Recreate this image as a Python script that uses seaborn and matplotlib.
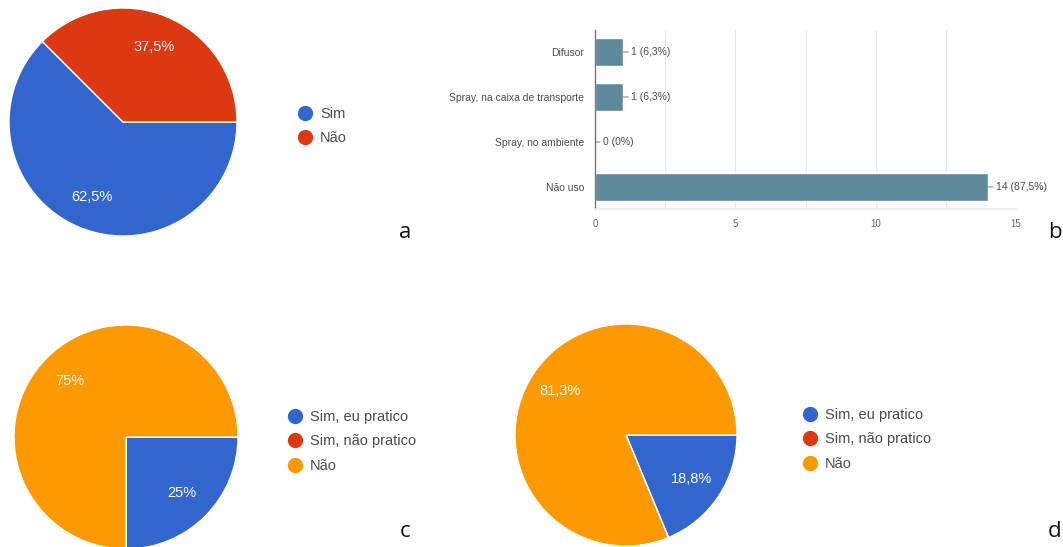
import matplotlib
matplotlib.use("Agg")
import matplotlib.pyplot as plt
from matplotlib.lines import Line2D
import seaborn as sns
import pandas as pd
import math

# Data (16 respondents)
pie_a_labels = ["Sim", "Não"]
pie_a_values = [10, 6]

bar_categories = ["Difusor", "Spray, na caixa de transporte", "Spray, no ambiente", "Não uso"]
bar_values = [1, 1, 0, 14]

pie_c_labels = ["Sim, eu pratico", "Sim, não pratico", "Não"]
pie_c_values = [4, 0, 12]

pie_d_labels = ["Sim, eu pratico", "Sim, não pratico", "Não"]
pie_d_values = [3, 0, 13]

panel_letters = ["a", "b", "c", "d"]

BLUE, RED, ORANGE = "#3366cc", "#dc3912", "#ff9900"
BAR_COLOR = "#5e8a9c"
TEXT_GRAY = "#4a4a4a"

W, H = 1063, 547

sns.set_theme(style="white")
plt.rcParams["font.family"] = ["Liberation Sans", "DejaVu Sans"]


def px_rect(x0, y0, w, h):
    # pixel box (top-left origin) -> figure fraction rect
    return [x0 / W, 1 - (y0 + h) / H, w / W, h / H]


def pct_text(pct):
    # Google style: half-up rounding, comma decimal, drop ",0"
    val = math.floor(pct * 10 + 0.5) / 10
    s = f"{val:.1f}"
    if s.endswith(".0"):
        s = s[:-2]
    return s.replace(".", ",") + "%"


def pie_autopct(pct):
    return pct_text(pct) if pct > 0 else ""


def draw_pie(fig, rect, values, colors):
    ax = fig.add_axes(rect)
    ax.pie(values, colors=colors, startangle=0, counterclock=False,
           autopct=pie_autopct, pctdistance=0.71,
           wedgeprops=dict(edgecolor="white", linewidth=1, clip_on=False),
           textprops=dict(color="white", fontsize=10.5))
    ax.set_xlim(-1, 1)
    ax.set_ylim(-1, 1)
    ax.set_aspect("equal")
    ax.axis("off")
    return ax


def draw_legend(fig, labels, colors, left_px, center_px):
    handles = [Line2D([], [], marker="o", linestyle="", markersize=10,
                      markerfacecolor=c, markeredgecolor=c) for c in colors]
    fig.legend(handles, labels, loc="center left",
               bbox_to_anchor=(left_px / W, 1 - center_px / H),
               frameon=False, fontsize=10.5, labelcolor=TEXT_GRAY,
               handlelength=1.0, handletextpad=0.5, labelspacing=0.72,
               borderpad=0.4)


fig = plt.figure(figsize=(W / 100, H / 100), dpi=100)

# a - pie
draw_pie(fig, px_rect(9, 8, 228, 228), pie_a_values, [BLUE, RED])
draw_legend(fig, pie_a_labels, [BLUE, RED], 285, 126)

# b - horizontal bars
axb = fig.add_axes(px_rect(595, 29.5, 421, 180))
df = pd.DataFrame({"categoria": bar_categories, "n": bar_values})
sns.barplot(data=df, x="n", y="categoria", orient="h", color=BAR_COLOR,
            saturation=1, width=0.62, ax=axb)
axb.set_xlim(0, 15)
axb.set_xticks([0, 5, 10, 15])
axb.set_xticks([2.5, 7.5, 12.5], minor=True)
axb.grid(axis="x", which="both", color="#e8e8e8", linewidth=0.8)
axb.set_axisbelow(True)
axb.set_xlabel("")
axb.set_ylabel("")
for side in ["top", "right"]:
    axb.spines[side].set_visible(False)
axb.spines["bottom"].set_color("#eeeeee")
axb.spines["left"].set_color("#777777")
axb.spines["left"].set_linewidth(1)
axb.tick_params(axis="y", length=0, pad=8, labelsize=7.5, labelcolor=TEXT_GRAY)
axb.tick_params(axis="x", which="both", length=0, pad=7, labelsize=7, labelcolor="#666666")
total = sum(bar_values)
for i, v in enumerate(bar_values):
    axb.annotate(f"{v} ({pct_text(100 * v / total)})", xy=(v, i), xytext=(6, 0),
                 textcoords="offset points", va="center", ha="left",
                 fontsize=7.5, color=TEXT_GRAY, annotation_clip=False,
                 arrowprops=dict(arrowstyle="-", color="#777777", lw=0.7,
                                 shrinkA=0, shrinkB=0, relpos=(0, 0.5)))

# c - pie
draw_pie(fig, px_rect(14, 325, 224, 224), pie_c_values, [BLUE, RED, ORANGE])
draw_legend(fig, pie_c_labels, [BLUE, RED, ORANGE], 275, 441.5)

# d - pie
draw_pie(fig, px_rect(515, 324, 222, 222), pie_d_values, [BLUE, RED, ORANGE])
draw_legend(fig, pie_d_labels, [BLUE, RED, ORANGE], 790, 439.5)

# panel letters
letter_pos = [(399, 238), (1048, 238), (400, 537), (1048, 537)]
for letter, (x, y) in zip(panel_letters, letter_pos):
    fig.text(x / W, 1 - y / H, letter, ha="left", va="baseline",
             fontsize=16, color="#111111", family=["Open Sans", "DejaVu Sans"])

fig.savefig("out.png", dpi=100)
